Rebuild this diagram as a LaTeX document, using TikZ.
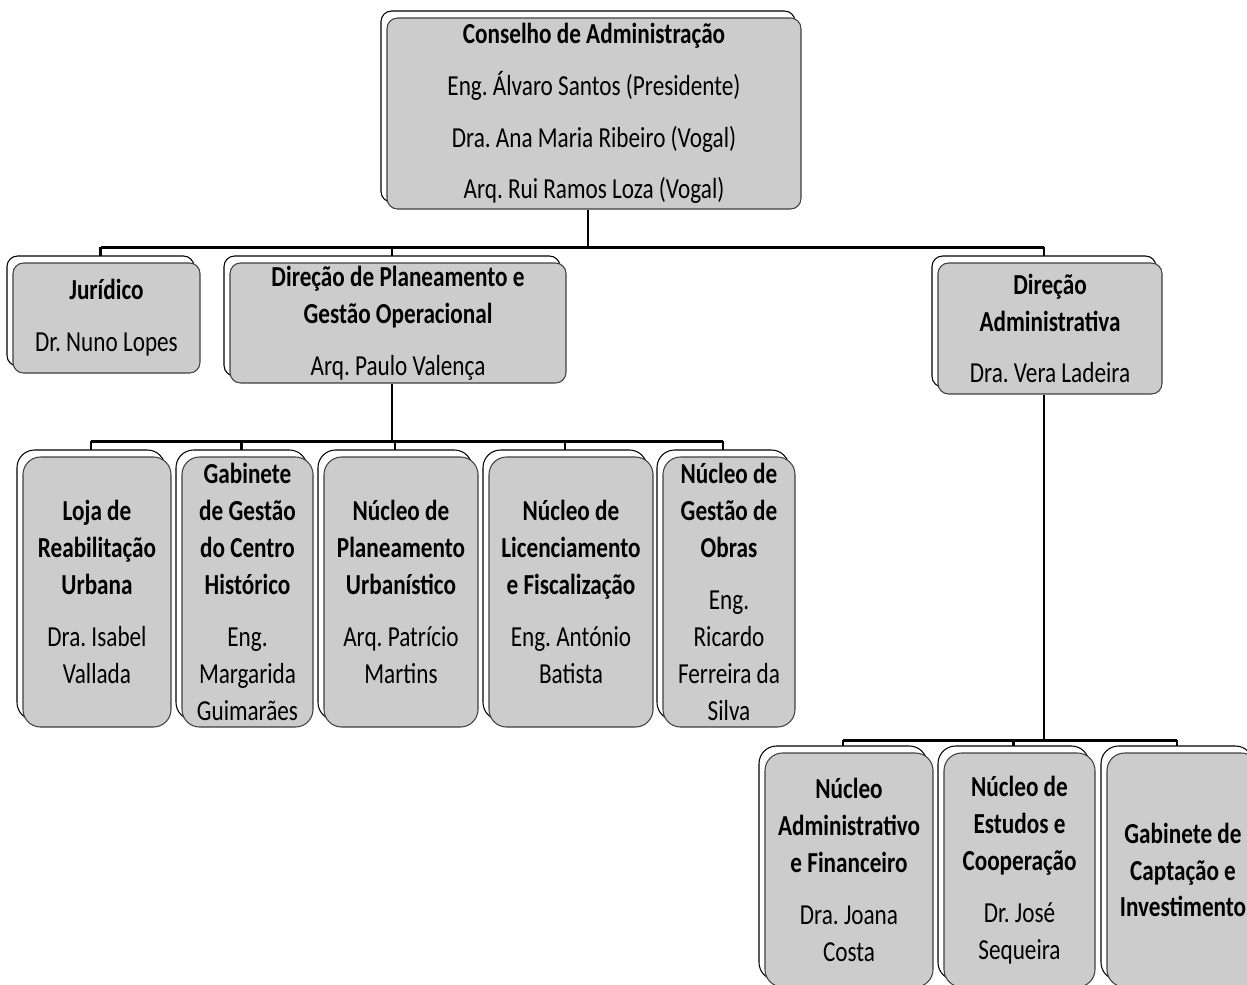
\documentclass[tikz,border=0pt]{standalone}
\usepackage{fontspec}
\setmainfont{Carlito}[FakeStretch=0.8]
\usetikzlibrary{shadows,backgrounds}

\newcommand{\pgap}{\\[8.5pt]}
\def\offx{0.12cm}

\tikzset{
  boxsize/.style 2 args={minimum width=#1*0.02cm, minimum height=#2*0.02cm},
  orgbox/.style={draw=black!75, fill=black!20, rounded corners=6pt, line width=0.6pt,
    align=center, inner sep=0pt,
    font=\fontsize{16.5pt}{21pt}\selectfont,
    copy shadow={shadow xshift=-\offx, shadow yshift=0.14cm, fill=white, draw=black}},
  tallbox/.style={rounded corners=10pt},
  link/.style={line width=1.2pt}
}

\begin{document}
\frenchspacing
\begin{tikzpicture}[x=0.02cm,y=-0.02cm]
        \useasboundingbox (0,0) rectangle (1247,984);
        \clip (0,0) rectangle (1247,984);

        \begin{scope}[every node/.style={orgbox}]
          % top level
          \node[boxsize={414}{191}] (cons) at (594,113.5)
            {\textbf{Conselho de Administração}\pgap Eng. Álvaro Santos (Presidente)\pgap
             Dra. Ana Maria Ribeiro (Vogal)\pgap Arq. Rui Ramos Loza (Vogal)};
          % second level
          \node[boxsize={187}{110}] (jur)     at (106.5,318) {\textbf{Jurídico}\pgap Dr. Nuno Lopes};
          \node[boxsize={336}{120}] (dirplan) at (398,323)
            {\textbf{Direção de Planeamento e}\\\textbf{Gestão Operacional}\pgap Arq. Paulo Valença};
          \node[boxsize={224}{131}] (diradm)  at (1050,328.5)
            {\textbf{Direção}\\\textbf{Administrativa}\pgap Dra. Vera Ladeira};
          % under Direção de Planeamento
          \node[tallbox,boxsize={148}{270}] (loja)   at (97,592)
            {\textbf{Loja de}\\\textbf{Reabilitação}\\\textbf{Urbana}\pgap Dra. Isabel\\Vallada};
          \node[tallbox,boxsize={131}{270}] (gab)    at (247.5,592)
            {\textbf{Gabinete}\\\textbf{de Gestão}\\\textbf{do Centro}\\\textbf{Histórico}\pgap Eng.\\Margarida\\Guimarães};
          \node[tallbox,boxsize={154}{270}] (nplan)  at (401,592)
            {\textbf{Núcleo de}\\\textbf{Planeamento}\\\textbf{Urbanístico}\pgap Arq. Patrício\\Martins};
          \node[tallbox,boxsize={164}{270}] (nlic)   at (571,592)
            {\textbf{Núcleo de}\\\textbf{Licenciamento}\\\textbf{e Fiscalização}\pgap Eng. António\\Batista};
          \node[tallbox,boxsize={132}{270}] (nobras) at (729,592)
            {\textbf{Núcleo de}\\\textbf{Gestão de}\\\textbf{Obras}\pgap Eng.\\Ricardo\\Ferreira da\\Silva};
          % under Direção Administrativa
          \node[tallbox,boxsize={168}{234}] (nadm) at (849,870)
            {\textbf{Núcleo}\\\textbf{Administrativo}\\\textbf{e Financeiro}\pgap Dra. Joana\\Costa};
          \node[tallbox,boxsize={151}{234}] (nest) at (1019.5,870)
            {\textbf{Núcleo de}\\\textbf{Estudos e}\\\textbf{Cooperação}\pgap Dr. José\\Sequeira};
          \node[tallbox,boxsize={152}{234}] (ncap) at (1183,870)
            {\textbf{Gabinete de}\\\textbf{Captação e}\\\textbf{Investimento}};
        \end{scope}

        \begin{scope}[on background layer, every path/.style={link}]
          % level 1 -> 2
          \draw ([xshift=-\offx]cons.south) -- ++(0,39);
          \foreach \n in {jur,dirplan,diradm}
            \draw ([xshift=-\offx]\n.north) -- ++(0,-15) coordinate (\n-up);
          \draw (jur-up) -- (diradm-up);
          % Direção de Planeamento -> núcleos
          \draw ([xshift=-\offx]dirplan.south) -- ++(0,59);
          \foreach \n in {loja,gab,nplan,nlic,nobras}
            \draw ([xshift=-\offx]\n.north) -- ++(0,-15) coordinate (\n-up);
          \draw (loja-up) -- (nobras-up);
          % Direção Administrativa -> núcleos
          \draw ([xshift=-\offx]diradm.south) -- ++(0,347);
          \foreach \n in {nadm,nest,ncap}
            \draw ([xshift=-\offx]\n.north) -- ++(0,-12) coordinate (\n-up);
          \draw (nadm-up) -- (ncap-up);
        \end{scope}

      \end{tikzpicture}
\end{document}
